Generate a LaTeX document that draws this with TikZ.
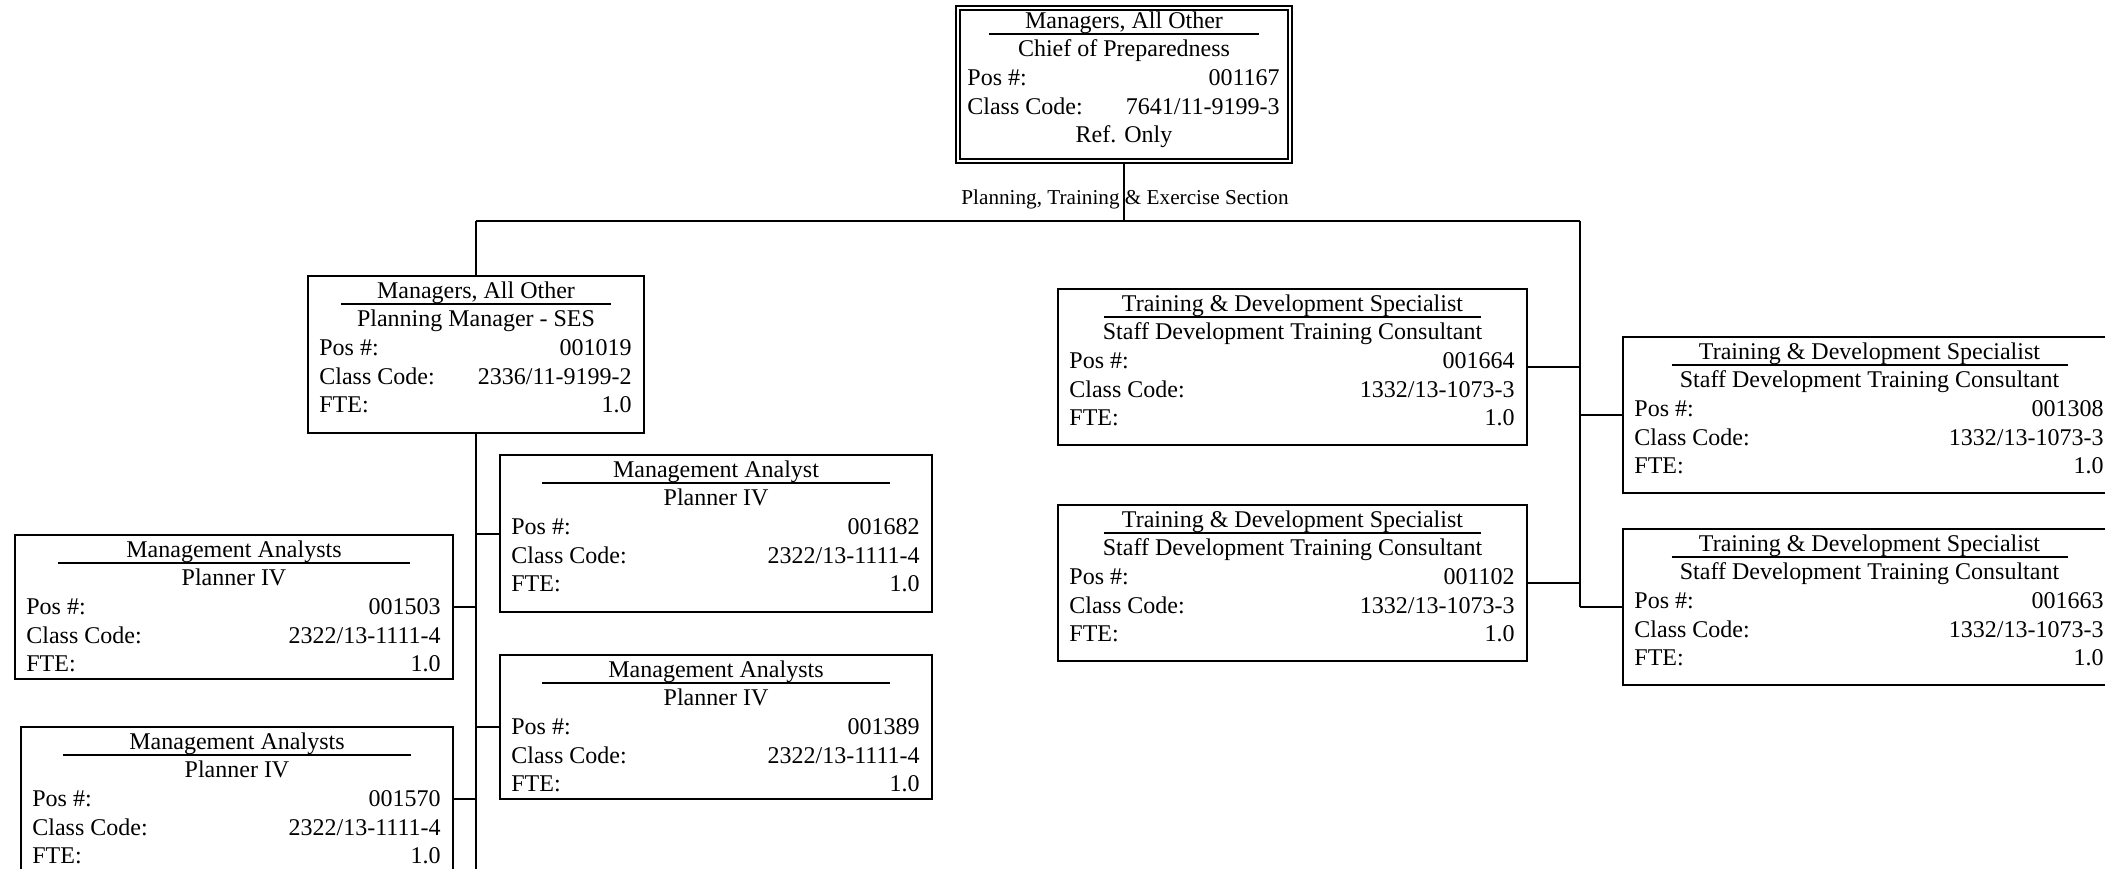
\documentclass[tikz,border=0pt]{standalone}
\usepackage{fontspec}
\setmainfont{Liberation Serif}
\usetikzlibrary{calc}

\tikzset{
  posbox/.style={draw, line width=1pt, rectangle, inner sep=0pt, anchor=north west},
  boxtext/.style={inner sep=0pt, font=\fontsize{12}{14}\selectfont},
  link/.style={line width=1pt},
  sectionlabel/.style={inner sep=0pt, font=\fontsize{10.6}{12}\selectfont},
}

% Position box: name, corner, width, height, title, working title, pos no., class code
\newcommand\orgbox[8]{%
  \node[posbox, minimum width=#3*0.5pt, minimum height=#4*0.5pt] (#1) at (#2) {};
  \node[boxtext, anchor=base] (#1-title) at ($(#1.north)+(0,23)$) {#5};
  \draw[link] ($(#1.north west)!0.1!(#1.north east)+(0,28.5)$) -- ($(#1.north west)!0.9!(#1.north east)+(0,28.5)$);
  \node[boxtext, anchor=base] (#1-sub) at ($(#1.north)+(0,51)$) {#6};
  \node[boxtext, anchor=base west] (#1-poskey) at ($(#1.north west)+(12,80)$) {Pos \#:};
  \node[boxtext, anchor=base east] (#1-posval) at ($(#1.north east)+(-13,80)$) {#7};
  \node[boxtext, anchor=base west] (#1-codekey) at ($(#1.north west)+(12,109)$) {Class Code:};
  \node[boxtext, anchor=base east] (#1-codeval) at ($(#1.north east)+(-13,109)$) {#8};
}
% FTE row of a position box
\newcommand\fterow[2]{%
  \node[boxtext, anchor=base west] (#1-ftekey) at ($(#1.north west)+(12,137)$) {FTE:};
  \node[boxtext, anchor=base east] (#1-fteval) at ($(#1.north east)+(-13,137)$) {#2};
}

\begin{document}
\begin{tikzpicture}[x=0.5pt, y=-0.5pt]
\useasboundingbox (0,0) rectangle (2105,868);
\clip (0,0) rectangle (2105,868);

% Chief
\orgbox{chief}{955,5}{336}{157}{Managers, All Other}{Chief of Preparedness}{001167}{7641/11-9199-3}
\draw[link] ($(chief.north west)+(5,5)$) rectangle ($(chief.south east)+(-5,-5)$);
\node[boxtext, anchor=base] (chief-ref) at ($(chief.north)+(0,137)$) {Ref. Only};

% Planning unit
\orgbox{mgr}{307,275}{336}{157}{Managers, All Other}{Planning Manager - SES}{001019}{2336/11-9199-2}
\fterow{mgr}{1.0}
\orgbox{ma1682}{499,454}{432}{157}{Management Analyst}{Planner IV}{001682}{2322/13-1111-4}
\fterow{ma1682}{1.0}
\orgbox{ma1389}{499,654}{432}{144}{Management Analysts}{Planner IV}{001389}{2322/13-1111-4}
\fterow{ma1389}{1.0}
\orgbox{ma1503}{14,534}{438}{144}{Management Analysts}{Planner IV}{001503}{2322/13-1111-4}
\fterow{ma1503}{1.0}
\orgbox{ma1570}{20,726}{432}{144}{Management Analysts}{Planner IV}{001570}{2322/13-1111-4}
\fterow{ma1570}{1.0}

% Training unit
\orgbox{tds1664}{1057,288}{469}{156}{Training \& Development Specialist}{Staff Development Training Consultant}{001664}{1332/13-1073-3}
\fterow{tds1664}{1.0}
\orgbox{tds1102}{1057,504}{469}{156}{Training \& Development Specialist}{Staff Development Training Consultant}{001102}{1332/13-1073-3}
\fterow{tds1102}{1.0}
\orgbox{tds1308}{1622,336}{493}{156}{Training \& Development Specialist}{Staff Development Training Consultant}{001308}{1332/13-1073-3}
\fterow{tds1308}{1.0}
\orgbox{tds1663}{1622,528}{493}{156}{Training \& Development Specialist}{Staff Development Training Consultant}{001663}{1332/13-1073-3}
\fterow{tds1663}{1.0}

% Section label
\node[sectionlabel] (section) at (1125,199) {Planning, Training \& Exercise Section};

% Connectors
\coordinate (busL) at (mgr.north |- 0,221);
\coordinate (busR) at (1580,221);
\coordinate (leftEnd) at (mgr.south |- 0,880);
\draw[link] (chief.south) -- (chief.south |- busL);
\draw[link] (busL) -- (busR);
\draw[link] (busL) -- (mgr.north);
\draw[link] (mgr.south) -- (leftEnd);
\draw[link] (ma1682.west) -- (ma1682.west -| mgr.south);
\draw[link] (ma1389.west) -- (ma1389.west -| mgr.south);
\draw[link] (ma1503.east) -- (ma1503.east -| mgr.south);
\draw[link] (ma1570.east) -- (ma1570.east -| mgr.south);
\draw[link] (busR) -- (busR |- tds1663.west);
\draw[link] (tds1664.east) -- (tds1664.east -| busR);
\draw[link] (tds1102.east) -- (tds1102.east -| busR);
\draw[link] (tds1308.west) -- (tds1308.west -| busR);
\draw[link] (tds1663.west) -- (tds1663.west -| busR);
\end{tikzpicture}
\end{document}
